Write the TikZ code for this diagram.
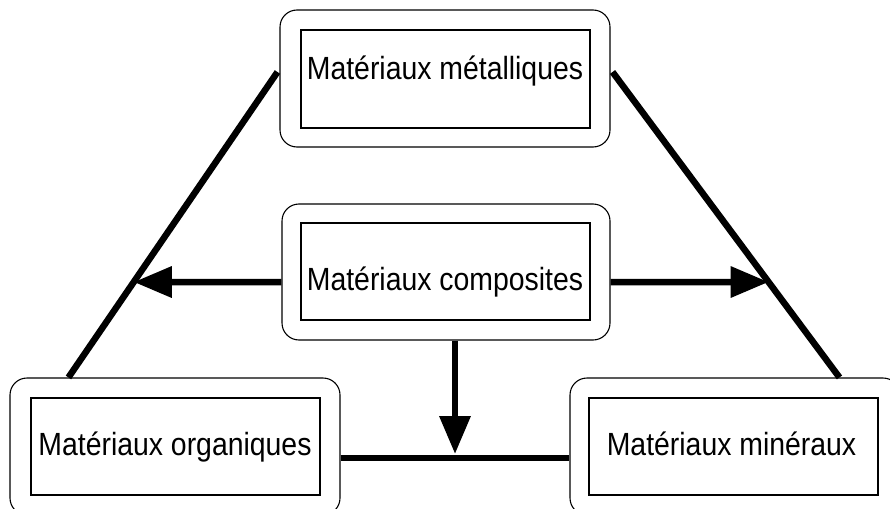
\documentclass[tikz,border=0pt]{standalone}
\usepackage{fontspec}
\setmainfont{Liberation Sans}
\usetikzlibrary{arrows.meta}
\tikzset{
  outerbox/.style={draw, line width=1.1pt, rounded corners=17pt, minimum width=330pt, minimum height=137pt, inner sep=0pt},
  innerbox/.style={draw, line width=1.6pt, minimum width=289pt, minimum height=97pt, inner sep=0pt},
  lbl/.style={anchor=base, inner sep=0pt, font=\fontsize{28.4pt}{30pt}\selectfont},
  thickline/.style={line width=6.5pt},
  arr/.style={line width=6.5pt, -{Triangle[length=38pt,width=30pt]}}
}
\newcommand{\tallt}[1]{\scalebox{1}[1.13]{#1}}
\begin{document}
\begin{tikzpicture}[x=1pt,y=-1pt]
\useasboundingbox (0,0) rectangle (890,508);
\clip (0,0) rectangle (890,508);
% boxes
\node[outerbox] (top) at (445,78.5) {};
\node[outerbox, minimum width=328pt, minimum height=136pt] (mid) at (446,272) {};
\node[outerbox] (bl) at (175,446.5) {};
\node[outerbox] (br) at (735,446.5) {};
\node[innerbox, minimum height=98pt] (itop) at (445.5,79) {};
\node[innerbox] (imid) at (445.5,271.5) {};
\node[innerbox] (ibl) at (175.5,446.5) {};
\node[innerbox] (ibr) at (733.5,446.5) {};
% labels
\node[lbl] (ttop) at (445,80) {\tallt{Matériaux métalliques}};
\node[lbl] (tmid) at (445,290) {\tallt{Matériaux composites}};
\node[lbl] (tbl) at (175,455) {\tallt{Matériaux organiques}};
\node[lbl] (tbr) at (731.5,455) {\tallt{Matériaux minéraux}};
% diagonal lines
\coordinate (lA) at ([shift={(-2,-6.5)}]top.west);
\coordinate (lB) at ([shift={(59,0)}]bl.north west);
\coordinate (rA) at ([shift={(2,-6.5)}]top.east);
\coordinate (rB) at ([shift={(270,0)}]br.north west);
\draw[thickline] (lA) -- (lB);
\draw[thickline] (rA) -- (rB);
% horizontal arrows from composites
\coordinate (ml) at ([shift={(0,10)}]mid.west);
\coordinate (mr) at ([shift={(0,10)}]mid.east);
\draw[arr] (ml) -- (intersection of lA--lB and ml--mr);
\draw[arr] (mr) -- (intersection of rA--rB and ml--mr);
% bottom link
\coordinate (hL) at ([shift={(0,11.5)}]bl.east);
\coordinate (hR) at ([shift={(0,11.5)}]br.west);
\draw[thickline] (hL) -- (hR);
\coordinate (ds) at ([shift={(9,0)}]mid.south);
\coordinate (dt) at (ds |- hL);
\draw[arr] (ds) -- ([shift={(0,-4)}]dt);
\end{tikzpicture}
\end{document}
